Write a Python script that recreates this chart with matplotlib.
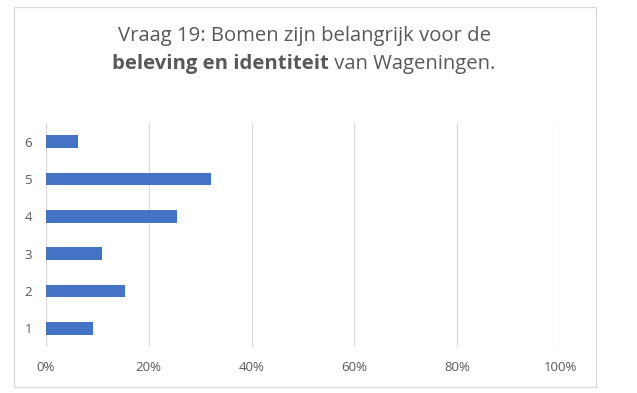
import numpy as np
import matplotlib
matplotlib.use("Agg")
import matplotlib.pyplot as plt
from matplotlib.patches import Rectangle

categories = ["1", "2", "3", "4", "5", "6"]
values = [9.2, 15.4, 10.9, 25.5, 32.1, 6.3]
ticks = [0, 20, 40, 60, 80, 100]
tick_labels = ["0%", "20%", "40%", "60%", "80%", "100%"]

grey = "#595959"
font = "Open Sans"

fig = plt.figure(figsize=(6.37, 3.93), dpi=100)
W, H = 637, 393

# chart border
fig.patches.append(Rectangle((13.5 / W, 1 - 386.5 / H), 582 / W, 380 / H,
                             transform=fig.transFigure, fill=False,
                             edgecolor="#d9d9d9", linewidth=0.9))

ax = fig.add_axes([45.7 / W, 1 - 347 / H, (560.3 - 45.7) / W, (347 - 123) / H])
y = np.arange(len(categories))
ax.barh(y, values, height=0.34, color="#4472C4", zorder=3)
ax.set_xlim(0, 100)
ax.set_ylim(-0.5, len(categories) - 0.5)
ax.set_xticks(ticks)
ax.set_xticklabels(tick_labels)
ax.set_yticks(y)
ax.set_yticklabels(categories)
ax.tick_params(length=0, labelsize=9.5, labelcolor=grey)
ax.tick_params(axis="x", pad=10)
ax.tick_params(axis="y", pad=10)
for lbl in ax.get_xticklabels() + ax.get_yticklabels():
    lbl.set_family(font)
ax.grid(axis="x", color="#d9d9d9", linewidth=0.9, zorder=0)
for s in ax.spines.values():
    s.set_visible(False)

# title, two lines, part of second line bold
cx = 304 / W
fs = 14.6
fig.text(cx, 1 - 36 / H, "Vraag 19: Bomen zijn belangrijk voor de",
         ha="center", va="center", fontsize=fs, color=grey, family=font)
fig.canvas.draw()
r = fig.canvas.get_renderer()
t1 = fig.text(0, 1 - 64 / H, "beleving en identiteit", ha="left", va="center",
              fontsize=fs, color=grey, family=font, weight="bold")
t2 = fig.text(0, 1 - 64 / H, " van Wageningen.", ha="left", va="center",
              fontsize=fs, color=grey, family=font)
w1 = t1.get_window_extent(r).width / W
w2 = t2.get_window_extent(r).width / W
x0 = cx - (w1 + w2) / 2
t1.set_x(x0)
t2.set_x(x0 + w1)

fig.savefig("out.png", dpi=100)
